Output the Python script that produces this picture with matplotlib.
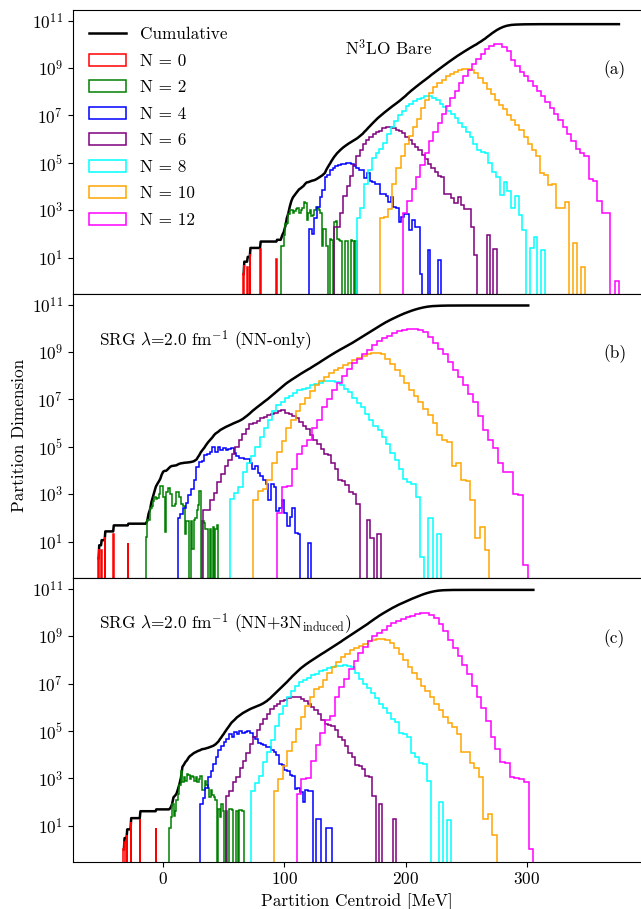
import numpy as np
import matplotlib
matplotlib.use('Agg')
import matplotlib.pyplot as plt
from matplotlib.ticker import NullLocator

plt.rcParams.update({
    'font.family': 'serif',
    'font.serif': ['cmr10'],
    'mathtext.fontset': 'cm',
    'axes.unicode_minus': False,
    'axes.formatter.use_mathtext': True,
    'font.size': 12.4,
})

nan = np.nan

# shells and colours
shells = [0, 2, 4, 6, 8, 10, 12]
colors = ['red', 'green', 'blue', 'purple', 'cyan', 'orange', 'magenta']

# centroid range [MeV] of each shell histogram (50 bins each)
bare_lo = [66.1, 97.2, 120.5, 140.7, 159.8, 179.0, 197.9]
bare_hi = [94.2, 160.0, 229.2, 275.1, 314.9, 347.9, 375.8]
nn_lo = [-53.3, -14.0, 12.4, 33.4, 55.4, 74.6, 93.9]
nn_hi = [-28.3, 45.8, 122.2, 179.8, 229.2, 269.0, 301.1]
nn3n_lo = [-32.5, 5.2, 30.7, 52.1, 72.5, 91.7, 110.4]
nn3n_hi = [-5.3, 66.6, 139.2, 192.2, 237.2, 275.1, 305.3]

# log10(partition dimension) per bin, nan = empty bin
# --- N3LO bare ---
bare_n0 = [0.3, 0.67, nan, nan, nan, nan, 0.6, nan, nan, nan,
           1.17, nan, nan, nan, nan, nan, nan, nan, nan, nan,
           nan, nan, nan, nan, nan, 1.34, nan, nan, nan, nan,
           nan, nan, nan, nan, nan, nan, nan, nan, nan, nan,
           nan, nan, nan, nan, nan, nan, nan, nan, nan, 0.94]
bare_n2 = [1.5, 1.5, 1.95, 2.4, 2.45, 2.85, 3.0, 3.0, 2.9, 2.95,
           3.05, 3.1, 2.9, 3.0, 3.1, 3.35, 3.3, 2.6, 2.9, 3.0,
           2.75, 2.8, 3.0, 3.15, 3.1, 3.0, 2.9, 1.5, 2.2, 2.2,
           1.5, nan, 1.8, 1.75, nan, 2.5, 2.55, 1.8, 1.75, 1.7,
           nan, nan, 1.7, 1.7, nan, nan, 1.75, 1.7, nan, 1.7]
bare_n4 = [2.2, 2.0, 2.65, 3.15, 3.55, 3.85, 4.4, 4.5, 4.7, 4.8,
           4.85, 4.9, 4.95, 4.95, 5.0, 5.0, 4.95, 4.85, 4.8, 4.7,
           4.7, 4.35, 4.55, 4.25, 4.2, 4.1, 4.1, 3.7, 3.7, 3.6,
           3.35, 3.55, 3.15, 3.1, 2.5, 2.7, 2.85, 2.85, 2.15, 2.6,
           2.3, 2.3, 0.3, nan, nan, 1.3, nan, nan, nan, 0.9]
bare_n6 = [2.3, 2.3, 2.9, 3.6, 4.0, 4.45, 4.9, 5.3, 5.55, 5.8,
           5.95, 6.1, 6.2, 6.3, 6.35, 6.45, 6.5, 6.5, 6.45, 6.4,
           6.35, 6.25, 6.1, 5.95, 5.8, 5.65, 5.55, 5.35, 5.15, 4.95,
           4.8, 4.6, 4.45, 4.4, 3.7, 3.7, 3.5, 3.3, 3.55, 3.2,
           3.05, 3.05, 2.3, 1.1, nan, nan, nan, 1.95, nan, 1.35]
bare_n8 = [2.66, 3.1, 4.1, 4.7, 5.2, 5.4, 5.6, 5.85, 6.2, 6.5,
           6.75, 7.0, 7.2, 7.4, 7.5, 7.6, 7.7, 7.75, 7.8, 7.8,
           7.75, 7.65, 7.5, 7.35, 7.2, 7.05, 6.9, 6.7, 6.5, 6.3,
           6.1, 5.8, 5.55, 5.45, 5.4, 5.0, 4.6, 4.4, 3.65, 4.2,
           3.8, 3.1, 3.6, 2.8, 2.15, nan, 1.4, 1.87, nan, 1.3]
bare_n10 = [2.65, 2.7, 3.05, 4.1, 4.8, 5.3, 5.8, 6.15, 6.5, 6.85,
            7.3, 7.65, 7.95, 8.2, 8.35, 8.5, 8.65, 8.75, 8.85, 8.9,
            8.95, 8.95, 8.9, 8.8, 8.6, 8.35, 8.1, 7.9, 7.65, 7.45,
            7.25, 7.0, 6.8, 6.6, 6.4, 6.1, 5.8, 5.55, 5.3, 4.55,
            4.5, 4.05, 4.1, 3.1, 3.1, 3.35, nan, 1.6, nan, 0.6]
bare_n12 = [2.9, 3.4, 3.9, 4.4, 4.9, 5.4, 5.9, 6.3, 6.7, 7.05,
            7.4, 7.75, 8.05, 8.35, 8.65, 8.9, 9.15, 9.4, 9.6, 9.8,
            9.95, 10.0, 10.0, 9.9, 9.7, 9.35, 9.1, 8.85, 8.65, 8.45,
            8.25, 8.05, 7.8, 7.55, 7.3, 7.05, 6.8, 6.5, 6.2, 5.9,
            5.6, 5.4, 5.3, 4.3, 4.25, 3.4, 2.9, 2.9, nan, 0.0]

# --- SRG NN-only ---
nn_n0 = [0.3, 0.7, nan, nan, nan, 0.65, nan, nan, nan, nan,
         nan, 1.19, nan, nan, nan, nan, nan, nan, nan, nan,
         nan, nan, nan, nan, nan, 1.33, nan, nan, nan, nan,
         nan, nan, nan, nan, nan, nan, nan, nan, nan, nan,
         nan, nan, nan, nan, nan, nan, nan, nan, nan, 0.94]
nn_n2 = [1.2, 1.9, 1.9, 2.4, 2.5, 2.7, 2.9, 2.8, 2.85, 3.0,
         3.35, 3.35, 2.9, 1.4, 3.1, 3.25, 3.25, 3.0, 2.5, 2.5,
         2.6, 3.1, 3.1, 2.9, 2.6, 2.6, 2.5, 1.3, 1.85, 1.85,
         nan, 1.85, 0.7, 1.9, 2.0, 2.35, 2.55, 3.15, nan, 1.85,
         1.8, 1.55, 1.55, nan, 1.55, nan, 1.6, nan, 1.55, 1.7]
nn_n4 = [2.0, 2.15, 2.4, 2.65, 2.95, 3.2, 3.6, 4.15, 4.35, 4.4,
         4.65, 4.7, 4.8, 5.0, 4.8, 5.0, 4.85, 4.95, 4.85, 4.9,
         4.95, 4.75, 4.6, 4.55, 4.55, 4.5, 4.5, 4.3, 4.05, 4.2,
         3.9, 3.75, 3.6, 3.45, 2.75, 3.45, 3.3, 2.3, 2.4, 2.75,
         2.2, 1.65, 2.05, 2.4, 1.35, 1.3, nan, nan, nan, 0.95]
nn_n6 = [2.35, 2.35, 2.75, 3.05, 3.5, 3.85, 4.2, 4.45, 4.7, 5.0,
         5.3, 5.55, 5.75, 5.95, 6.0, 6.1, 6.2, 6.25, 6.35, 6.4,
         6.45, 6.5, 6.55, 6.45, 6.4, 6.3, 6.2, 6.05, 5.9, 5.75,
         5.5, 5.3, 5.1, 4.9, 4.7, 4.65, 4.3, 4.05, 3.6, 3.55,
         3.4, 3.1, 3.0, 2.6, nan, nan, 1.9, 1.15, nan, 1.3]
nn_n8 = [2.8, 3.05, 3.3, 3.95, 4.3, 4.6, 5.0, 5.4, 5.8, 6.15,
         6.5, 6.75, 6.9, 7.05, 7.15, 7.27, 7.4, 7.45, 7.5, 7.6,
         7.65, 7.7, 7.8, 7.8, 7.78, 7.75, 7.6, 7.45, 7.3, 7.05,
         6.85, 6.7, 6.4, 6.15, 5.9, 5.7, 5.4, 5.1, 4.75, 4.45,
         4.05, 3.65, 3.5, 3.45, 2.9, 0.35, nan, 2.0, nan, 1.3]
nn_n10 = [2.75, 3.15, 3.2, 3.6, 4.3, 4.8, 5.25, 5.8, 6.15, 6.5,
          6.8, 7.05, 7.35, 7.6, 7.8, 7.95, 8.1, 8.25, 8.35, 8.45,
          8.55, 8.65, 8.75, 8.85, 8.92, 8.96, 8.96, 8.93, 8.7, 8.5,
          8.25, 8.0, 7.7, 7.4, 7.15, 6.9, 6.6, 6.35, 6.0, 5.5,
          5.3, 5.2, 4.2, 4.3, 3.6, 3.55, 2.75, 1.15, 1.6, 0.65]
nn_n12 = [2.2, 3.3, 3.35, 4.05, 4.7, 5.05, 5.3, 5.8, 6.15, 6.7,
          7.0, 7.4, 7.7, 8.0, 8.3, 8.55, 8.72, 8.9, 9.1, 9.3,
          9.45, 9.6, 9.7, 9.8, 9.9, 9.93, 9.97, 9.97, 9.95, 9.85,
          9.65, 9.4, 9.15, 8.9, 8.6, 8.25, 7.95, 7.6, 7.25, 6.9,
          6.3, 5.7, 5.3, 4.95, 4.3, 3.95, 3.95, 3.0, 2.95, 0.0]

# --- SRG NN+3N induced ---
nn3n_n0 = [0.0, 0.3, nan, nan, nan, 0.6, nan, nan, nan, nan,
           nan, 1.14, nan, nan, nan, nan, nan, nan, nan, nan,
           nan, nan, nan, nan, nan, 1.3, nan, nan, nan, nan,
           nan, nan, nan, nan, nan, nan, nan, nan, nan, nan,
           nan, nan, nan, nan, nan, nan, nan, nan, nan, 0.9]
nn3n_n2 = [0.9, 1.35, 1.9, 1.4, 1.6, 2.1, 2.35, 2.7, 3.3, 2.85,
           3.05, 2.9, 3.2, 3.15, 2.95, 3.1, 3.05, 2.9, 3.05, 2.85,
           2.95, 3.1, 2.5, 2.5, 2.9, 2.7, 2.6, 2.2, 2.5, 2.3,
           2.2, 2.1, nan, 1.7, 1.35, 1.9, 1.6, nan, 1.6, nan,
           1.7, 1.7, 1.65, nan, nan, 1.6, nan, 1.65, 1.65, 1.6]
nn3n_n4 = [1.92, 2.15, 2.6, 3.05, 3.3, 3.6, 3.9, 4.2, 4.35, 4.55,
           4.65, 4.85, 4.75, 4.95, 4.85, 5.0, 4.9, 4.95, 5.0, 4.9,
           4.75, 4.65, 4.5, 4.45, 4.4, 4.3, 4.3, 4.2, 4.1, 4.0,
           3.6, 3.55, 3.35, 3.3, 3.15, 3.1, 2.55, 2.6, 2.4, 2.0,
           2.5, 2.45, 2.45, nan, 1.3, 1.3, nan, nan, 0.9, 0.9]
nn3n_n6 = [2.27, 2.45, 2.85, 3.05, 3.45, 3.75, 4.05, 4.45, 4.75, 5.05,
           5.3, 5.5, 5.72, 5.93, 6.05, 6.15, 6.25, 6.32, 6.4, 6.43,
           6.45, 6.42, 6.35, 6.28, 6.14, 6.0, 5.9, 5.72, 5.45, 5.3,
           5.25, 5.2, 5.05, 4.73, 4.6, 4.35, 4.05, 3.9, 3.55, 3.5,
           3.4, 3.1, 3.05, 2.27, nan, 1.9, nan, nan, nan, 1.28]
nn3n_n8 = [2.48, 2.8, 3.1, 3.7, 4.1, 4.6, 5.2, 5.7, 6.05, 6.45,
           6.7, 6.9, 7.05, 7.15, 7.25, 7.35, 7.42, 7.52, 7.58, 7.65,
           7.7, 7.72, 7.76, 7.77, 7.75, 7.7, 7.45, 7.2, 7.0, 6.8,
           6.6, 6.4, 6.15, 5.95, 5.75, 5.5, 5.37, 4.9, 4.85, 4.73,
           4.05, 3.9, 3.65, 3.6, 2.9, nan, nan, 2.0, nan, 1.24]
nn3n_n10 = [2.48, 2.97, 3.5, 4.15, 4.55, 5.1, 5.6, 6.05, 6.45, 6.75,
            6.85, 7.15, 7.45, 7.7, 7.9, 8.1, 8.25, 8.4, 8.5, 8.6,
            8.68, 8.78, 8.83, 8.88, 8.9, 8.85, 8.7, 8.5, 8.25, 8.0,
            7.7, 7.45, 7.2, 6.9, 6.7, 6.45, 6.15, 5.9, 5.6, 5.35,
            5.15, 4.85, 4.1, 4.1, 3.65, 3.45, 3.05, 1.3, 1.5, 0.6]
nn3n_n12 = [2.34, 2.95, 3.0, 3.75, 4.4, 4.9, 5.45, 5.65, 6.45, 6.85,
            7.2, 7.6, 7.95, 8.3, 8.55, 8.8, 9.0, 9.15, 9.25, 9.45,
            9.55, 9.65, 9.73, 9.8, 9.87, 9.95, 9.97, 9.97, 9.9, 9.75,
            9.5, 9.2, 8.85, 8.5, 8.15, 7.8, 7.4, 6.9, 6.45, 5.95,
            5.4, 4.75, 4.25, 3.7, 3.65, 3.05, 3.0, 2.95, 2.85, 0.0]


def plot_panel(ax, lo, hi, logdims, legend=False):
    '''
    Step histograms of partition dimension per shell N, plus the
    cumulative dimension (sum of all shells) as a black line.
    '''
    hists = []
    for a, b, logd in zip(lo, hi, logdims):
        edges = np.linspace(a, b, len(logd) + 1)
        centers = 0.5 * (edges[1:] + edges[:-1])
        weights = np.nan_to_num(10.0 ** np.array(logd, dtype=float))
        hists.append((centers, edges, weights))

    # cumulative: each shell's running sum, linear inside a bin
    grid = np.unique(np.concatenate([h[1] for h in hists]))
    total = np.zeros_like(grid)
    for centers, edges, weights in hists:
        cdf = np.concatenate([[0.0], np.cumsum(weights)])
        total += np.interp(grid, edges, cdf, left=0.0, right=cdf[-1])
    keep = total > 0
    ax.plot(grid[keep], total[keep], color='black', lw=1.8, label='Cumulative')

    for (centers, edges, weights), n, c in zip(hists, shells, colors):
        ax.hist(centers, bins=edges, weights=weights, histtype='step',
                color=c, lw=1.1, label=f'N = {n}')

    ax.set_yscale('log')
    ax.set_ylim(0.3, 2.95e11)
    ax.set_yticks([1e1, 1e3, 1e5, 1e7, 1e9, 1e11])
    ax.yaxis.set_minor_locator(NullLocator())
    ax.spines['right'].set_visible(False)
    if legend:
        ax.legend(loc='upper left', bbox_to_anchor=(0, 0.993), frameon=False,
                  handlelength=2.2, labelspacing=0.65)


fig, axes = plt.subplots(3, 1, sharex=True, figsize=(6.41, 9.09), dpi=100)
fig.subplots_adjust(left=0.1139, right=1.0, top=0.9895, bottom=0.052, hspace=0)

plot_panel(axes[0], bare_lo, bare_hi,
           [bare_n0, bare_n2, bare_n4, bare_n6, bare_n8, bare_n10, bare_n12],
           legend=True)
plot_panel(axes[1], nn_lo, nn_hi,
           [nn_n0, nn_n2, nn_n4, nn_n6, nn_n8, nn_n10, nn_n12])
plot_panel(axes[2], nn3n_lo, nn3n_hi,
           [nn3n_n0, nn3n_n2, nn3n_n4, nn3n_n6, nn3n_n8, nn3n_n10, nn3n_n12])

axes[0].text(0.479, 0.863, r'N$^3$LO Bare', transform=axes[0].transAxes,
             ha='left', va='center')
axes[1].text(0.046, 0.836, r'SRG $\lambda$=2.0 fm$^{-1}$ (NN-only)',
             transform=axes[1].transAxes, ha='left', va='center')
axes[2].text(0.046, 0.838, r'SRG $\lambda$=2.0 fm$^{-1}$ (NN+3N$_{\rm induced}$)',
             transform=axes[2].transAxes, ha='left', va='center')
for ax, tag, y in zip(axes, ['(a)', '(b)', '(c)'], [0.787, 0.79, 0.787]):
    ax.text(0.934, y, tag, transform=ax.transAxes, ha='left', va='center')

axes[2].set_xlim(-73.9, 394.0)
axes[2].set_xticks([0, 100, 200, 300])
axes[2].set_xlabel('Partition Centroid [MeV]')
axes[1].set_ylabel('Partition Dimension')

fig.savefig('out.png', dpi=100)
